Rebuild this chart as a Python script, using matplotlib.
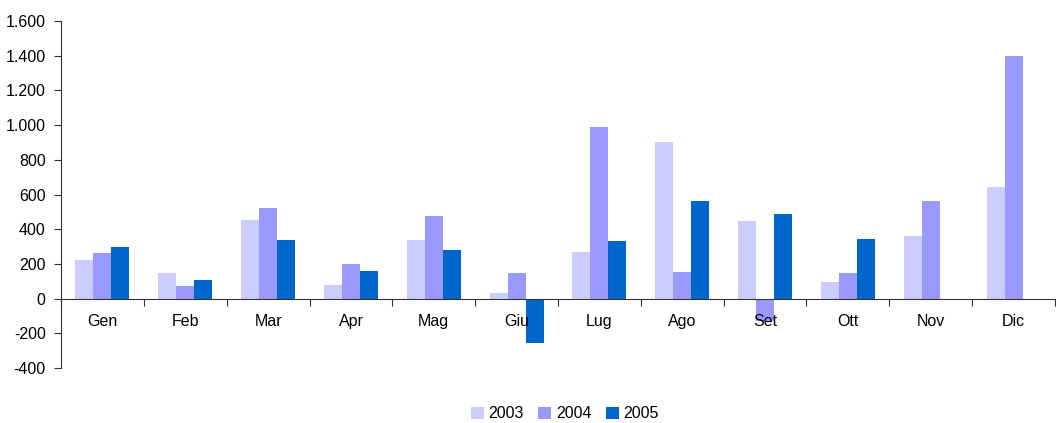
import matplotlib
matplotlib.use("Agg")
import matplotlib.pyplot as plt
import numpy as np
from matplotlib.ticker import FuncFormatter

months = ["Gen", "Feb", "Mar", "Apr", "Mag", "Giu", "Lug", "Ago", "Set", "Ott", "Nov", "Dic"]
y2003 = [225, 145, 455, 80, 335, 35, 270, 905, 445, 98, 363, 641]
y2004 = [265, 70, 520, 200, 475, 145, 990, 155, -130, 145, 565, 1400]
y2005 = [300, 110, 335, 160, 280, -255, 330, 565, 485, 345, np.nan, np.nan]
series_names = ["2003", "2004", "2005"]
colors = ["#CCCCFF", "#9999FF", "#0066CC"]

plt.rcParams['font.family'] = ['Liberation Sans', 'DejaVu Sans']

fig = plt.figure(figsize=(10.56, 4.23), dpi=100)
ax = fig.add_axes([61/1056, 1-368/423, 994/1056, (368-21)/423])

x = np.arange(len(months))
w = 0.217
for i, (vals, name, c) in enumerate(zip([y2003, y2004, y2005], series_names, colors)):
    ax.bar(x + (i-1)*w, vals, width=w, color=c, label=name, linewidth=0)

ax.set_xlim(-0.5, 11.5)
ax.set_ylim(-400, 1600)
ax.set_yticks(np.arange(-400, 1601, 200))

def fmt(v, pos):
    s = f"{abs(int(v)):,}".replace(",", ".")
    return ("-" + s) if v < 0 else s
ax.yaxis.set_major_formatter(FuncFormatter(fmt))

ax.spines['top'].set_visible(False)
ax.spines['right'].set_visible(False)
ax.spines['bottom'].set_position(('data', 0))
ax.spines['bottom'].set_color('#333333')
ax.spines['left'].set_color('#333333')

ax.set_xticks(np.arange(-0.5, 12, 1))
ax.set_xticklabels([])
ax.set_xticks(x, minor=True)
ax.set_xticklabels(months, minor=True)
ax.tick_params(axis='x', which='major', length=5, direction='out', color='#333333')
ax.tick_params(axis='x', which='minor', length=0, pad=11, labelsize=11.5)
ax.tick_params(axis='y', length=5, direction='out', color='#333333', labelsize=11.5, pad=6)

fig.legend(loc='lower center', bbox_to_anchor=(0.535, -0.03), ncol=3, frameon=False,
           fontsize=11.5, handlelength=0.8, handleheight=0.8, handletextpad=0.3,
           columnspacing=0.9)

fig.savefig("out.png", dpi=100)
